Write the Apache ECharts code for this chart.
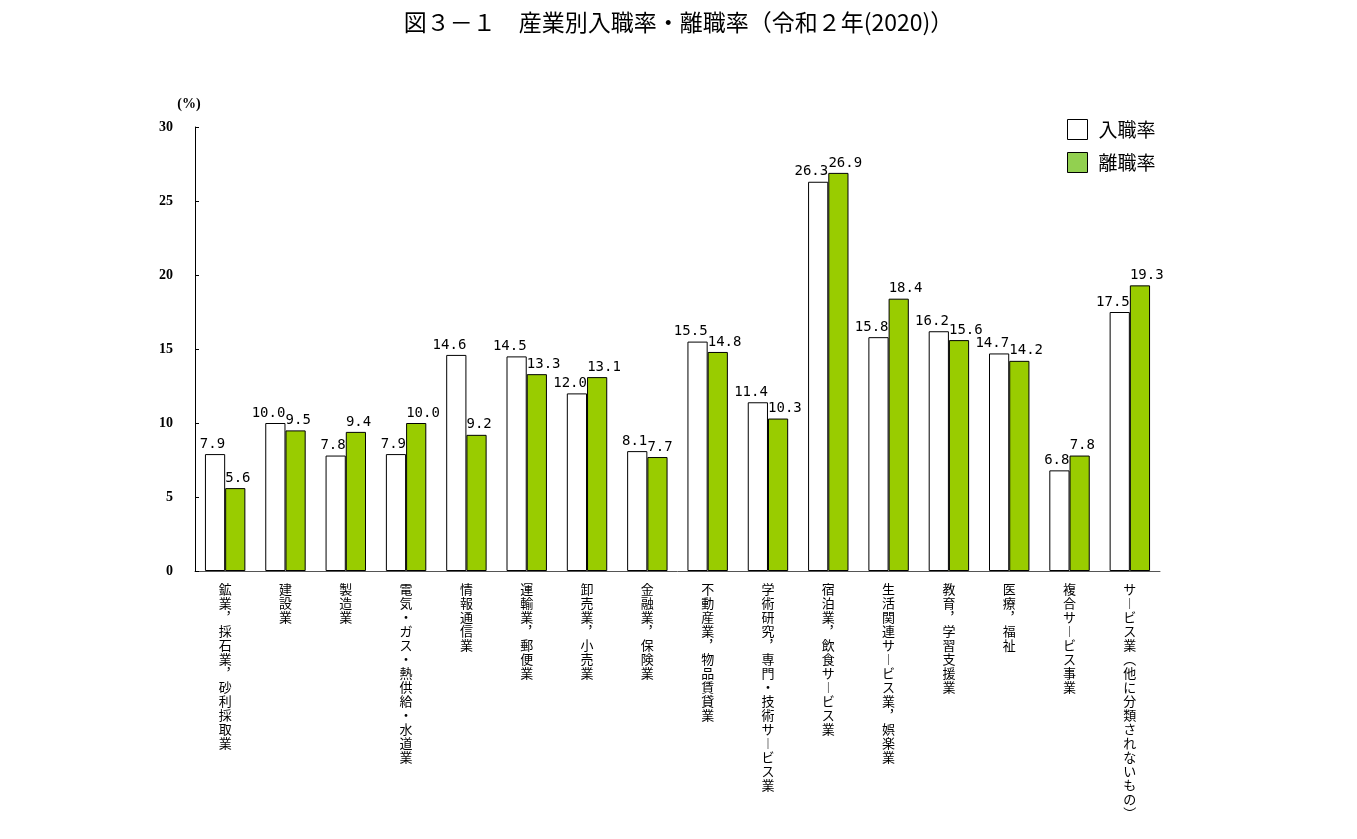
<!DOCTYPE html>
<html>
<head>
<meta charset="utf-8">
<script src="https://cdn.jsdelivr.net/npm/echarts@6/dist/echarts.min.js"></script>
<style>
  html, body { margin: 0; padding: 0; background: #fff; }
  #chart { width: 1357px; height: 839px; }
</style>
</head>
<body>
<div id="chart"></div>
<script>
const categories = [
    '鉱業，採石業，砂利採取業',
    '建設業',
    '製造業',
    '電気・ガス・熱供給・水道業',
    '情報通信業',
    '運輸業，郵便業',
    '卸売業，小売業',
    '金融業，保険業',
    '不動産業，物品賃貸業',
    '学術研究，専門・技術サービス業',
    '宿泊業，飲食サービス業',
    '生活関連サービス業，娯楽業',
    '教育，学習支援業',
    '医療，福祉',
    '複合サービス事業',
    'サービス業（他に分類されないもの）'
];
const entryRate = [7.9, 10.0, 7.8, 7.9, 14.6, 14.5, 12.0, 8.1, 15.5, 11.4, 26.3, 15.8, 16.2, 14.7, 6.8, 17.5];
const exitRate = [5.6, 9.5, 9.4, 10.0, 9.2, 13.3, 13.1, 7.7, 14.8, 10.3, 26.9, 18.4, 15.6, 14.2, 7.8, 19.3];
const seriesNames = ['入職率', '離職率'];

// stack the characters top to bottom, using vertical forms where they exist
const verticalForms = {'ー': '︱', '，': '︐', '（': '︵', '）': '︶'};
const toVertical = (text) => text.split('').map(c => verticalForms[c] || c).join('\n');

const valueLabel = (align, dx) => ({
    show: true,
    position: 'top',
    distance: 3,
    align: align,
    offset: [dx, 0],
    fontFamily: '"DejaVu Sans Mono", monospace',
    fontSize: 14,
    color: '#000',
    formatter: (p) => p.value.toFixed(1)
});

const option = {
    animation: false,
    title: {
        text: '図３－１　産業別入職率・離職率（令和２年(2020)）',
        left: 'center',
        top: 6,
        textStyle: {
            fontFamily: '"Noto Sans CJK JP"',
            fontSize: 23,
            fontWeight: 'normal',
            color: '#000'
        }
    },
    legend: {
        orient: 'vertical',
        left: 1062,
        top: 114,
        icon: 'rect',
        itemWidth: 20,
        itemHeight: 20,
        itemGap: 12,
        textStyle: {
            fontFamily: '"Noto Sans CJK JP"',
            fontSize: 19,
            color: '#000',
            padding: [0, 0, 0, 6]
        },
        data: [
            {name: seriesNames[0], itemStyle: {color: '#fff', borderColor: '#000', borderWidth: 1}},
            {name: seriesNames[1], itemStyle: {color: '#92d050', borderColor: '#000', borderWidth: 1}}
        ]
    },
    grid: {
        left: 195,
        right: 197,
        top: 127,
        bottom: 268,
        containLabel: false
    },
    xAxis: {
        type: 'category',
        data: categories,
        axisLine: {lineStyle: {color: '#555', width: 1}},
        axisTick: {inside: true, length: 5, lineStyle: {color: '#555'}},
        axisLabel: {
            interval: 0,
            margin: 11,
            verticalAlign: 'top',
            fontFamily: '"Noto Sans CJK JP"',
            fontSize: 13,
            lineHeight: 14,
            color: '#000',
            formatter: toVertical
        }
    },
    yAxis: {
        type: 'value',
        min: 0,
        max: 30,
        interval: 5,
        name: '(%)',
        nameLocation: 'end',
        nameGap: 16,
        nameTextStyle: {
            fontFamily: '"Liberation Serif", serif',
            fontSize: 14,
            fontWeight: 'bold',
            color: '#000',
            padding: [0, 0, 0, -12]
        },
        axisLine: {show: true, lineStyle: {color: '#000', width: 1}},
        axisTick: {show: true, inside: true, length: 4, lineStyle: {color: '#000'}},
        splitLine: {show: false},
        axisLabel: {
            margin: 22,
            fontFamily: '"Liberation Serif", serif',
            fontSize: 14,
            fontWeight: 'bold',
            color: '#000'
        }
    },
    series: [
        {
            name: seriesNames[0],
            type: 'bar',
            data: entryRate,
            barGap: '0%',
            barCategoryGap: '33%',
            itemStyle: {color: '#fff', borderColor: '#000', borderWidth: 1},
            label: valueLabel('right', 10)
        },
        {
            name: seriesNames[1],
            type: 'bar',
            data: exitRate,
            itemStyle: {color: '#99cc00', borderColor: '#000', borderWidth: 1},
            label: valueLabel('left', -10)
        }
    ]
};

const myChart = echarts.init(document.getElementById('chart'));
myChart.setOption(option);
</script>
</body>
</html>
